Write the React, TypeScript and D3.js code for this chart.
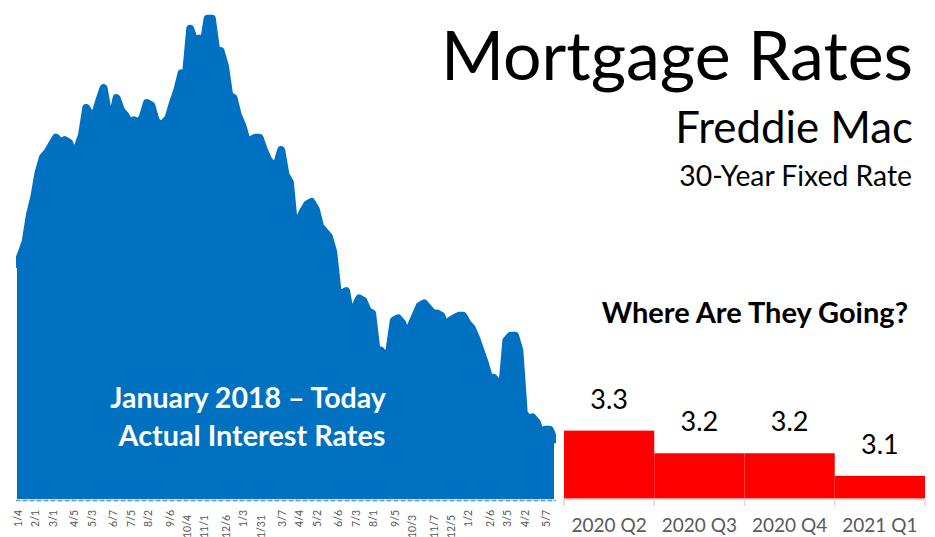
import React from "react";
import * as d3 from "d3";

const dates = [
  "2018-01-04","2018-01-11","2018-01-18","2018-01-25","2018-02-01","2018-02-08","2018-02-15","2018-02-22","2018-03-01","2018-03-08",
  "2018-03-15","2018-03-22","2018-03-29","2018-04-05","2018-04-12","2018-04-19","2018-04-26","2018-05-03","2018-05-10","2018-05-17",
  "2018-05-24","2018-05-31","2018-06-07","2018-06-14","2018-06-21","2018-06-28","2018-07-05","2018-07-12","2018-07-19","2018-07-26",
  "2018-08-02","2018-08-09","2018-08-16","2018-08-23","2018-08-30","2018-09-06","2018-09-13","2018-09-20","2018-09-27","2018-10-04",
  "2018-10-11","2018-10-18","2018-10-25","2018-11-01","2018-11-08","2018-11-15","2018-11-21","2018-11-29","2018-12-06","2018-12-13",
  "2018-12-20","2018-12-27",
  "2019-01-03","2019-01-10","2019-01-17","2019-01-24","2019-01-31","2019-02-07","2019-02-14","2019-02-21","2019-02-28","2019-03-07",
  "2019-03-14","2019-03-21","2019-03-28","2019-04-04","2019-04-11","2019-04-18","2019-04-25","2019-05-02","2019-05-09","2019-05-16",
  "2019-05-23","2019-05-30","2019-06-06","2019-06-13","2019-06-20","2019-06-27","2019-07-03","2019-07-11","2019-07-18","2019-07-25",
  "2019-08-01","2019-08-08","2019-08-15","2019-08-22","2019-08-29","2019-09-05","2019-09-12","2019-09-19","2019-09-26","2019-10-03",
  "2019-10-10","2019-10-17","2019-10-24","2019-10-31","2019-11-07","2019-11-14","2019-11-21","2019-11-27","2019-12-05","2019-12-12",
  "2019-12-19","2019-12-26",
  "2020-01-02","2020-01-09","2020-01-16","2020-01-23","2020-01-30","2020-02-06","2020-02-13","2020-02-20","2020-02-27","2020-03-05",
  "2020-03-12","2020-03-19","2020-03-26","2020-04-02","2020-04-09","2020-04-16","2020-04-23","2020-04-30","2020-05-07","2020-05-14",
  "2020-05-21",
];

const rates = [
  3.95, 3.99, 4.04, 4.15, 4.22, 4.32, 4.38, 4.40, 4.43, 4.46,
  4.44, 4.45, 4.44, 4.40, 4.42, 4.47, 4.58, 4.55, 4.55, 4.61,
  4.66, 4.56, 4.54, 4.62, 4.57, 4.55, 4.52, 4.53, 4.52, 4.54,
  4.60, 4.59, 4.53, 4.51, 4.52, 4.54, 4.60, 4.65, 4.72, 4.71,
  4.90, 4.85, 4.86, 4.83, 4.94, 4.94, 4.81, 4.81, 4.75, 4.63,
  4.62, 4.55,
  4.51, 4.45, 4.45, 4.46, 4.46, 4.41, 4.37, 4.35, 4.35, 4.41,
  4.31, 4.28, 4.10, 4.12, 4.16, 4.19, 4.20, 4.17, 4.10, 4.08,
  4.06, 4.00, 3.84, 3.83, 3.84, 3.74, 3.77, 3.81, 3.80, 3.76,
  3.75, 3.60, 3.60, 3.57, 3.60, 3.72, 3.73, 3.71, 3.65, 3.70,
  3.74, 3.78, 3.79, 3.77, 3.75, 3.75, 3.74, 3.69, 3.72, 3.73,
  3.74, 3.74,
  3.71, 3.69, 3.65, 3.60, 3.55, 3.49, 3.49, 3.47, 3.44, 3.64,
  3.66, 3.66, 3.60, 3.35, 3.32, 3.33, 3.31, 3.26, 3.28, 3.28,
  3.24,
];

const tickDates = [
  "2018-01-04","2018-02-01","2018-03-01","2018-04-05","2018-05-03","2018-06-07","2018-07-05","2018-08-02","2018-09-06","2018-10-04",
  "2018-11-01","2018-12-06","2019-01-03","2019-01-31","2019-03-07","2019-04-04","2019-05-02","2019-06-06","2019-07-03","2019-08-01",
  "2019-09-05","2019-10-03","2019-11-07","2019-12-05","2020-01-02","2020-02-06","2020-03-05","2020-04-02","2020-05-07",
];

const quarters = ["2020 Q2", "2020 Q3", "2020 Q4", "2021 Q1"];
const forecast = [3.3, 3.2, 3.2, 3.1];

const W = 935;
const H = 537;
const BLUE = "#0070C0";
const FONT = "Lato, 'Open Sans', sans-serif";

function fmtDate(s: string) {
  const [, m, d] = s.split("-");
  return `${+m}/${+d}`;
}

export default function App() {
  const x = d3.scalePoint<string>().domain(dates).range([17, 554]);
  const y = d3.scaleLinear().domain([3, 5]).range([499, 4]);

  const data = dates.map((d, i) => ({ d, v: rates[i] }));
  const area = d3
    .area<{ d: string; v: number }>()
    .x((p) => x(p.d) as number)
    .y0(y(3))
    .y1((p) => y(p.v));
  const line = d3
    .line<{ d: string; v: number }>()
    .x((p) => x(p.d) as number)
    .y((p) => y(p.v));

  const xb = d3.scaleBand<string>().domain(quarters).range([564, 925]).padding(0);
  const yb = d3.scaleLinear().domain([3, 5]).range([498.5, 46]);

  const bounds = [...quarters.map((q) => xb(q) as number), 925];

  return (
    <svg
      width={W}
      height={H}
      viewBox={`0 0 ${W} ${H}`}
      style={{ position: "absolute", left: 0, top: 0, background: "#fff" }}
    >
      <defs>
        <clipPath id="areaClip">
          <rect x={16} y={0} width={540} height={499} />
        </clipPath>
      </defs>

      {/* Area of actual rates */}
      <g clipPath="url(#areaClip)">
        <path d={area(data) || ""} fill={BLUE} />
        <path
          d={line(data) || ""}
          fill="none"
          stroke={BLUE}
          strokeWidth={8}
          strokeLinejoin="round"
          strokeLinecap="round"
        />
      </g>

      {/* dashed baseline under area */}
      <line x1={16} x2={556} y1={500.5} y2={500.5} stroke="#C9C9C9" strokeWidth={1.5} />
      <line
        x1={16}
        x2={556}
        y1={500.5}
        y2={500.5}
        stroke="#5B9BD5"
        strokeWidth={1.5}
        strokeDasharray="4 3"
      />

      {/* date labels */}
      {tickDates.map((t) => {
        const lbl = fmtDate(t);
        const cx = (x(t) as number) + 1;
        const yTop = 510 + (lbl.length - 3) * 5;
        return (
          <text
            key={t}
            transform={`translate(${cx + 4},${yTop}) rotate(-90)`}
            textAnchor="end"
            fontFamily={FONT}
            fontSize={10.5}
            fill="#595959"
          >
            {lbl}
          </text>
        );
      })}

      {/* overlay text on area */}
      <text
        x={248}
        y={408}
        textAnchor="middle"
        fontFamily={FONT}
        fontWeight={700}
        fontSize={28.5}
        fill="#fff"
      >
        January 2018 – Today
      </text>
      <text
        x={252}
        y={446}
        textAnchor="middle"
        fontFamily={FONT}
        fontWeight={700}
        fontSize={28.8}
        fill="#fff"
      >
        Actual Interest Rates
      </text>

      {/* forecast bars */}
      {quarters.map((q, i) => (
        <rect
          key={q}
          x={xb(q) as number}
          y={yb(forecast[i])}
          width={xb.bandwidth()}
          height={yb(3) - yb(forecast[i])}
          fill="#FF0000"
        />
      ))}
      {quarters.map((q, i) => (
        <text
          key={q + "v"}
          x={(xb(q) as number) + xb.bandwidth() / 2}
          y={yb(forecast[i]) - 22}
          textAnchor="middle"
          fontFamily={FONT}
          fontSize={27}
          fill="#000"
        >
          {forecast[i].toFixed(1)}
        </text>
      ))}
      <line x1={564} x2={925} y1={499.5} y2={499.5} stroke="#D9D9D9" strokeWidth={1.5} />
      {bounds.map((b, i) => (
        <line key={i} x1={b} x2={b} y1={499} y2={506} stroke="#D9D9D9" strokeWidth={1.5} />
      ))}
      {quarters.map((q) => (
        <text
          key={q + "l"}
          x={(xb(q) as number) + xb.bandwidth() / 2}
          y={532}
          textAnchor="middle"
          fontFamily={FONT}
          fontSize={19}
          fill="#595959"
        >
          {q}
        </text>
      ))}

      {/* titles */}
      <text x={913} y={80} textAnchor="end" fontFamily={FONT} fontSize={68} fill="#000">
        Mortgage Rates
      </text>
      <text x={913} y={143} textAnchor="end" fontFamily={FONT} fontSize={43.8} fill="#000">
        Freddie Mac
      </text>
      <text x={912} y={186} textAnchor="end" fontFamily={FONT} fontSize={28.3} fill="#000">
        30-Year Fixed Rate
      </text>
      <text
        x={908}
        y={323}
        textAnchor="end"
        fontFamily={FONT}
        fontWeight={700}
        fontSize={29}
        fill="#000"
      >
        Where Are They Going?
      </text>
    </svg>
  );
}
